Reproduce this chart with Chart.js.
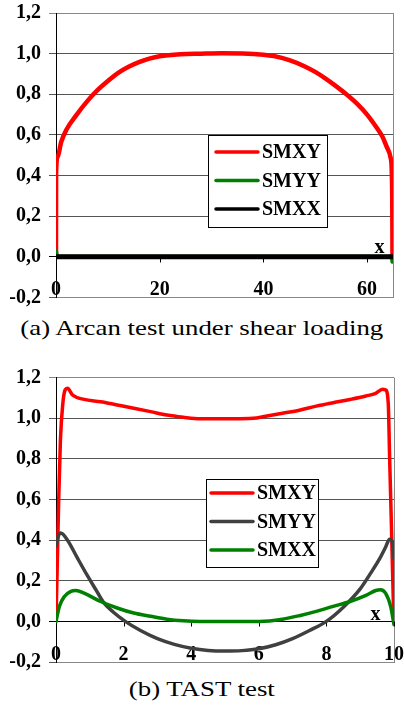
<!DOCTYPE html>
<html><head><meta charset="utf-8">
<script src="https://cdn.jsdelivr.net/npm/chart.js@4.4.0/dist/chart.umd.min.js"></script>
<style>
html,body{margin:0;padding:0;background:#fff;width:404px;height:717px;overflow:hidden;}
canvas{position:absolute;left:0;}
#ca{top:0;}
#cb{top:360px;}
.cap{position:absolute;left:0;width:404px;text-align:center;font-family:"Liberation Serif","Times New Roman",serif;font-size:22px;line-height:1;color:#000;white-space:nowrap;}
.cap span{display:inline-block;transform:scaleX(1.22);transform-origin:center;}
</style>
</head><body>
<canvas id="ca" width="404" height="310"></canvas>
<div class="cap" style="top:316.5px"><span>(a) Arcan test under shear loading</span></div>
<canvas id="cb" width="404" height="315"></canvas>
<div class="cap" style="top:677.5px"><span>(b) TAST test</span></div>
<script>
// ---------- data ----------
const seriesNames = ['SMXY', 'SMYY', 'SMXX'];
const yTickLabels = ['-0,2', '0,0', '0,2', '0,4', '0,6', '0,8', '1,0', '1,2'];

// (a) Arcan test under shear loading
const aXTicks = [0, 20, 40, 60];
const aXTickLabels = ['0', '20', '40', '60'];
const aSmxyX = [0, 0.02, 0.3, 1, 2, 4, 6, 8, 10, 12, 14, 16, 18, 20, 24, 28, 32, 36, 40, 42, 45, 48, 50, 52, 54, 56, 58, 60, 62, 63, 64, 64.6, 64.85, 64.9];
const aSmxyY = [0, 0.41, 0.49, 0.565, 0.625, 0.70, 0.765, 0.82, 0.865, 0.905, 0.935, 0.958, 0.975, 0.987, 0.997, 1.0, 1.002, 1.001, 0.995, 0.988, 0.968, 0.937, 0.91, 0.877, 0.84, 0.80, 0.755, 0.70, 0.63, 0.59, 0.53, 0.48, 0.3, 0];
const aSmyyX = [0, 0.15, 0.5, 64.5, 64.8, 64.9];
const aSmyyY = [0.03, 0.01, 0, 0, -0.01, -0.025];
const aSmxxX = [0, 64.9];
const aSmxxY = [0, 0];

// (b) TAST test
const bXTicks = [0, 2, 4, 6, 8, 10];
const bXTickLabels = ['0', '2', '4', '6', '8', '10'];
const bSmxyX = [0, 0.04, 0.08, 0.13, 0.2, 0.27, 0.34, 0.49, 0.83, 1.32, 1.81, 2.3, 2.8, 3.28, 3.77, 4.26, 4.75, 5.25, 5.83, 6.2, 6.7, 7.2, 7.7, 8.2, 8.7, 9.17, 9.46, 9.66, 9.75, 9.83, 9.87, 9.93, 9.98, 10.0];
const bSmxyY = [0, 0.3, 0.6, 0.89, 1.07, 1.14, 1.148, 1.115, 1.093, 1.082, 1.066, 1.05, 1.033, 1.016, 1.005, 0.998, 0.998, 0.998, 1.0, 1.01, 1.025, 1.04, 1.06, 1.077, 1.093, 1.11, 1.123, 1.143, 1.14, 1.074, 0.81, 0.43, 0.1, 0.03];
const bSmyyX = [0, 0.07, 0.14, 0.34, 0.64, 0.93, 1.2, 1.4, 1.7, 2.05, 2.5, 3.0, 3.5, 4.0, 4.5, 5.0, 5.5, 6.0, 6.5, 7.0, 7.5, 8.0, 8.5, 9.0, 9.3, 9.58, 9.75, 9.87, 9.95, 10.0];
const bSmyyY = [0.37, 0.42, 0.435, 0.40, 0.31, 0.225, 0.15, 0.095, 0.045, 0.0, -0.045, -0.085, -0.113, -0.132, -0.143, -0.146, -0.144, -0.135, -0.115, -0.085, -0.045, 0.0, 0.07, 0.16, 0.235, 0.31, 0.365, 0.405, 0.39, 0.31];
const bSmxxX = [0, 0.1, 0.25, 0.44, 0.59, 0.83, 1.32, 1.81, 2.3, 2.8, 3.28, 3.77, 4.26, 5.25, 6.03, 6.7, 7.2, 7.7, 8.2, 8.7, 9.17, 9.46, 9.6, 9.75, 9.9, 10.0];
const bSmxxY = [0, 0.074, 0.123, 0.148, 0.152, 0.139, 0.098, 0.066, 0.041, 0.025, 0.011, 0.003, 0, 0, 0, 0.011, 0.028, 0.049, 0.074, 0.098, 0.128, 0.152, 0.156, 0.139, 0.074, -0.016];

// ---------- helpers ----------
const pts = (xs, ys) => xs.map((x, i) => ({x: x, y: ys[i]}));
const SERIF = '"Liberation Serif", "Times New Roman", serif';

function excelPlugin(cfg) {
  return {
    id: 'excelLook',
    beforeDatasetsDraw(chart) {
      const {ctx, chartArea, scales: {x, y}} = chart;
      ctx.save();
      const y0 = Math.round(y.getPixelForValue(0)) + 0.5;
      ctx.strokeStyle = '#000';
      ctx.lineWidth = 1;
      cfg.ticks.forEach(v => {
        const px = Math.round(x.getPixelForValue(v)) + 0.5;
        ctx.beginPath(); ctx.moveTo(px, y0); ctx.lineTo(px, y0 + 5); ctx.stroke();
      });
      ctx.font = 'bold 20px ' + SERIF;
      ctx.fillStyle = '#000';
      ctx.textAlign = 'center';
      ctx.textBaseline = 'alphabetic';
      cfg.ticks.forEach((v, i) => ctx.fillText(cfg.labels[i], x.getPixelForValue(v), chartArea.bottom - 2));
      ctx.fillText('x', x.getPixelForValue(cfg.xTitle[0]), y.getPixelForValue(cfg.xTitle[1]) + 5);
      ctx.restore();
    },
    afterDatasetsDraw(chart) {
      const {ctx} = chart;
      const b = cfg.legend;
      ctx.save();
      ctx.fillStyle = '#fff';
      ctx.fillRect(b.x, b.y, b.w, b.h);
      ctx.strokeStyle = '#000';
      ctx.lineWidth = 1;
      ctx.strokeRect(b.x + 0.5, b.y + 0.5, b.w, b.h);
      ctx.font = 'bold 20px ' + SERIF;
      ctx.textAlign = 'left';
      ctx.textBaseline = 'middle';
      chart.data.datasets.forEach((ds, i) => {
        const yy = b.y + b.first + i * b.gap;
        ctx.strokeStyle = ds.borderColor;
        ctx.lineWidth = 3.5;
        ctx.lineCap = 'round';
        ctx.beginPath(); ctx.moveTo(b.x + b.l0, yy); ctx.lineTo(b.x + b.l1, yy); ctx.stroke();
        ctx.fillStyle = '#000';
        ctx.fillText(ds.label, b.x + b.t, yy + 1);
      });
      ctx.restore();
    }
  };
}

function makeChart(id, datasets, xMax, xStep, pad, cfg) {
  return new Chart(document.getElementById(id), {
    type: 'line',
    data: {datasets: datasets},
    options: {
      responsive: false,
      animation: false,
      layout: {padding: pad},
      plugins: {legend: {display: false}, tooltip: {enabled: false}},
      elements: {point: {radius: 0}, line: {borderCapStyle: 'round', borderJoinStyle: 'round', cubicInterpolationMode: 'monotone'}},
      scales: {
        x: {
          type: 'linear', min: 0, max: xMax,
          ticks: {display: false, stepSize: xStep},
          grid: {drawTicks: false, color: c => (c.tick && c.tick.value === xMax) ? '#888' : 'rgba(0,0,0,0)'},
          border: {display: true, color: '#888'},
          afterFit: s => { s.height = 0; s.paddingLeft = 0; s.paddingRight = 0; }
        },
        y: {
          type: 'linear', min: -0.2, max: 1.2,
          ticks: {stepSize: 0.2, padding: 8, color: '#000', font: {family: SERIF, size: 20, weight: 'bold'},
                  callback: (v, i) => yTickLabels[i]},
          grid: {tickLength: 7, color: c => {
            const v = c.tick ? c.tick.value : 1;
            if (Math.abs(v) < 1e-9) return '#000';
            if (Math.abs(v - 1.2) < 1e-9) return '#888';
            return '#555';
          }},
          border: {display: true, color: '#000'},
          afterFit: s => { s.width = 56; s.paddingTop = 0; s.paddingBottom = 0; }
        }
      }
    },
    plugins: [excelPlugin(cfg)]
  });
}

makeChart('ca', [
  {label: seriesNames[0], data: pts(aSmxyX, aSmxyY), borderColor: '#ff0000', borderWidth: 4.5, order: 2},
  {label: seriesNames[1], data: pts(aSmyyX, aSmyyY), borderColor: '#008000', borderWidth: 4, order: 1},
  {label: seriesNames[2], data: pts(aSmxxX, aSmxxY), borderColor: '#000000', borderWidth: 5, order: 0}
], 65, 20, {left: 0, top: 13, right: 11, bottom: 12.6},
{ticks: aXTicks, labels: aXTickLabels, xTitle: [62.4, 0.045],
 legend: {x: 208, y: 135, w: 119, h: 92, first: 17, gap: 28.5, l0: 8, l1: 50, t: 54}});

makeChart('cb', [
  {label: seriesNames[0], data: pts(bSmxyX, bSmxyY), borderColor: '#ff0000', borderWidth: 3.5, order: 2},
  {label: seriesNames[1], data: pts(bSmyyX, bSmyyY), borderColor: '#404040', borderWidth: 3.5, order: 1},
  {label: seriesNames[2], data: pts(bSmxxX, bSmxxY), borderColor: '#008000', borderWidth: 3.5, order: 0}
], 10, 2, {left: 0, top: 17.7, right: 10, bottom: 13},
{ticks: bXTicks, labels: bXTickLabels, xTitle: [9.45, 0.03],
 legend: {x: 206, y: 119, w: 112, h: 88, first: 14, gap: 28.5, l0: 5, l1: 47, t: 51}});
</script>
</body></html>
